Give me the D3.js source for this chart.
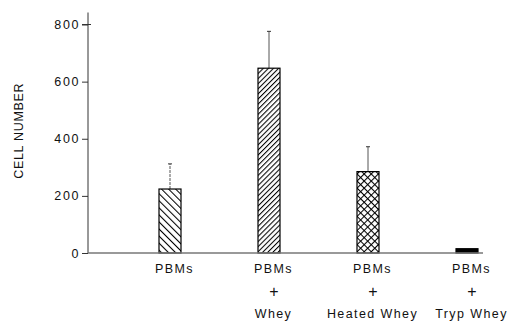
<!DOCTYPE html>
<html>
<head>
<meta charset="utf-8">
<script src="https://cdn.jsdelivr.net/npm/d3@7"></script>
<style>
  html, body { margin: 0; padding: 0; background: #fff; }
  svg { display: block; font-family: "Liberation Sans", Arial, sans-serif; }
</style>
</head>
<body>
<svg id="chart" width="510" height="321"></svg>
<script>
// Treatment groups, each label stacked on several lines
const groups = ["PBMs", "PBMs + Whey", "PBMs + Heated Whey", "PBMs + Tryp Whey"];
const groupLines = [["PBMs"], ["PBMs", "+", "Whey"], ["PBMs", "+", "Heated Whey"], ["PBMs", "+", "Tryp Whey"]];
// Mean cell number and upper error for each group
const cellMeans = [224, 647, 285, 15];
const cellErrors = [88, 129, 87, 0];
const fills = ["url(#hatchBack)", "url(#hatchFwd)", "url(#crossHatch)", "#000"];
const yTicks = [0, 200, 400, 600, 800];

const svg = d3.select("#chart");

const y = d3.scaleLinear().domain([0, 800]).range([253, 24.5]);
const x = d3.scalePoint().domain(groups).range([170, 467]);
const barW = 22;
const axisX = 88;

// Hatch patterns
const defs = svg.append("defs");
function lines(id, size, angle) {
  const p = defs.append("pattern").attr("id", id)
    .attr("patternUnits", "userSpaceOnUse")
    .attr("width", size).attr("height", size)
    .attr("patternTransform", `rotate(${angle})`);
  p.append("rect").attr("width", size).attr("height", size).attr("fill", "#fff");
  p.append("line").attr("x1", 0.5).attr("x2", 0.5).attr("y1", 0).attr("y2", size)
    .attr("stroke", "#000").attr("stroke-width", 1.1);
}
lines("hatchBack", 5, -45);
lines("hatchFwd", 3.6, 45);
const cp = defs.append("pattern").attr("id", "crossHatch")
  .attr("patternUnits", "userSpaceOnUse").attr("width", 5).attr("height", 5)
  .attr("patternTransform", "rotate(45)");
cp.append("rect").attr("width", 5).attr("height", 5).attr("fill", "#fff");
cp.append("line").attr("x1", 0.5).attr("x2", 0.5).attr("y1", 0).attr("y2", 5).attr("stroke", "#000").attr("stroke-width", 1.1);
cp.append("line").attr("y1", 0.5).attr("y2", 0.5).attr("x1", 0).attr("x2", 5).attr("stroke", "#000").attr("stroke-width", 1.1);

// Y axis
const yAxis = svg.append("g").attr("transform", `translate(${axisX},0)`)
  .call(d3.axisLeft(y).tickValues(yTicks).tickSize(6).tickPadding(2));
yAxis.select(".domain").remove();
yAxis.selectAll(".tick line").attr("stroke", "#333");
yAxis.selectAll(".tick text")
  .attr("font-size", 12.5).attr("fill", "#111")
  .style("letter-spacing", "1.6px")
  .style("font-family", '"Liberation Sans", Arial, sans-serif');
svg.append("line")
  .attr("x1", axisX).attr("x2", axisX)
  .attr("y1", y(0)).attr("y2", y(842))
  .attr("stroke", "#333").attr("stroke-width", 1);
svg.append("line")
  .attr("x1", axisX - 6).attr("x2", axisX + 3)
  .attr("y1", y(800)).attr("y2", y(800))
  .attr("stroke", "#333");

// Y title
svg.append("text")
  .attr("transform", `translate(23,${(y(0) + y(800)) / 2 - 8}) rotate(-90)`)
  .attr("text-anchor", "middle")
  .attr("font-size", 12.5).attr("fill", "#111")
  .style("letter-spacing", "0.7px")
  .text("CELL NUMBER");

// Error bars
const err = svg.append("g");
groups.forEach((g, i) => {
  if (!cellErrors[i]) return;
  const cx = x(g);
  err.append("line")
    .attr("x1", cx).attr("x2", cx)
    .attr("y1", y(cellMeans[i])).attr("y2", y(cellMeans[i] + cellErrors[i]))
    .attr("stroke", "#555").attr("stroke-width", 1)
    .attr("stroke-dasharray", i === 0 ? "3,1" : null);
  err.append("line")
    .attr("x1", cx - 2).attr("x2", cx + 2)
    .attr("y1", y(cellMeans[i] + cellErrors[i])).attr("y2", y(cellMeans[i] + cellErrors[i]))
    .attr("stroke", "#333").attr("stroke-width", 1);
});

// Bars
svg.append("g").selectAll("rect")
  .data(groups)
  .join("rect")
  .attr("x", d => x(d) - barW / 2)
  .attr("width", barW)
  .attr("y", (d, i) => y(cellMeans[i]))
  .attr("height", (d, i) => y(0) - y(cellMeans[i]))
  .attr("fill", (d, i) => fills[i])
  .attr("stroke", "#000").attr("stroke-width", 1.2);

// Baseline
svg.append("line")
  .attr("x1", axisX).attr("x2", x(groups[3]) + 16)
  .attr("y1", y(0)).attr("y2", y(0))
  .attr("stroke", "#777").attr("stroke-width", 1.5);

// Group labels (the "+" separator drawn a little larger)
const lab = svg.append("g");
groups.forEach((g, i) => {
  groupLines[i].forEach((t, j) => {
    const plus = t === "+";
    lab.append("text")
      .attr("x", x(g) + (plus ? 5 : 4.5))
      .attr("y", 273 + j * 22.5 + (plus ? 1.5 : 0))
      .attr("text-anchor", "middle")
      .attr("font-size", plus ? 16 : 12.5).attr("fill", "#111")
      .attr("font-weight", plus ? 300 : null)
      .style("letter-spacing", plus ? "0px" : "1.4px")
      .text(t);
  });
});
</script>
</body>
</html>
